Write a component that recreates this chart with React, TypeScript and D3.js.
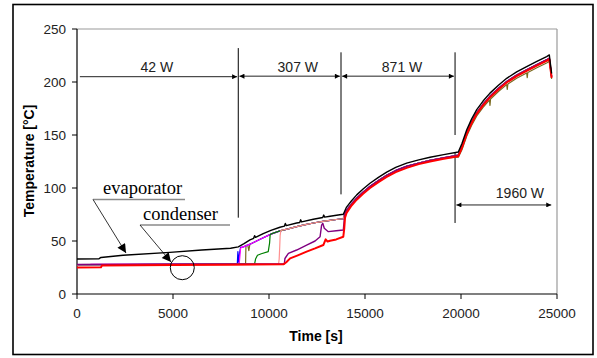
import React, { useEffect, useRef } from 'react';
import * as d3 from 'd3';

type Pt = [number, number];

// evaporator thermocouple (black)
const evaporator: Pt[] = [
  [0, 33], [1150, 33.3], [1250, 34.5], [2400, 36.6], [4840, 39.3], [6500, 41.5], [8000, 43.2],
  [8400, 44.5], [8700, 47.5], [9010, 51], [9200, 52.5], [9250, 55], [9300, 53.5], [9700, 57],
  [10100, 60], [10570, 63], [10800, 64], [10850, 66.5], [10900, 64.5], [11440, 67], [11600, 67.5],
  [11650, 70], [11700, 68], [12310, 70.5], [12800, 72.2], [12850, 74.5], [12900, 72.5], [13180, 73.4],
  [13600, 74.5], [13870, 75.2], [14040, 82], [14300, 88], [14570, 93.5], [14900, 99], [15260, 104.5],
  [15700, 110], [16130, 115], [16600, 119.5], [17170, 123.5], [17800, 126.5], [18390, 129],
  [19100, 131.5], [19860, 134], [20050, 142], [20300, 155], [20550, 165], [20820, 174], [21150, 182],
  [21510, 189.5], [21950, 197], [22380, 203.5], [22900, 209.5], [23420, 214.5], [23950, 219.5],
  [24460, 224], [24600, 225.5], [24650, 218], [24720, 208],
];

// shared path of the condenser thermocouples once they have heated up
const clusterMid: Pt[] = [
  [8600, 44], [9010, 47], [9300, 49.5], [9700, 53], [10100, 56.5], [10570, 59.5], [11000, 61.5],
  [11440, 63.5], [11900, 65.5], [12310, 67], [12800, 68.5], [13180, 69.5], [13600, 70.5], [13870, 71],
];
const clusterHigh: Pt[] = [
  [13950, 76], [14040, 79], [14300, 85], [14570, 90.5], [14900, 96], [15260, 101.5], [15700, 107],
  [16130, 112], [16600, 116.5], [17170, 120.5], [17800, 123.5], [18390, 126], [19100, 128.5],
  [19860, 131], [20050, 139], [20300, 152], [20550, 162], [20820, 171], [21150, 179], [21510, 186.5],
  [21950, 194], [22380, 200.5], [22900, 206.5], [23420, 211.5], [23950, 216.5], [24460, 221],
  [24600, 222.5], [24650, 215], [24720, 205],
];

const blueLow: Pt[] = [[0, 27.5], [3000, 27.8], [6000, 28.2], [8350, 28.5], [8380, 40], [8420, 30], [8470, 39], [8520, 44]];
const magentaLow: Pt[] = [[700, 28], [4000, 28.2], [8450, 28.6], [8520, 43], [8580, 44.5]];
const oliveLow: Pt[] = [[0, 27.8], [5000, 28.2], [8780, 28.5], [8800, 46], [8900, 45.5], [8950, 41], [9000, 46.5]];
const oliveHigh: Pt[] = [
  [19860, 129], [20050, 136], [20300, 149], [20550, 159], [20820, 168], [21150, 176], [21480, 183],
  [21510, 178], [21540, 184], [21950, 191], [22380, 197.5], [22410, 193], [22440, 198], [22900, 203.5],
  [23420, 208.5], [23450, 204], [23480, 209], [23950, 213.5], [24460, 218], [24600, 219.5],
  [24650, 213], [24720, 203],
];
const greenLow: Pt[] = [[0, 27.5], [5000, 28], [9250, 28.5], [9300, 33], [9400, 36.5], [9600, 38], [9960, 40], [10030, 48], [10060, 56], [10150, 57]];
const pinkLow: Pt[] = [[0, 27.5], [5000, 28], [10500, 28.3], [10530, 33], [10560, 45], [10580, 55], [10620, 60]];
const purpleLow: Pt[] = [
  [0, 27.8], [5000, 28.2], [10800, 28.5], [10830, 33.5], [11010, 38.4], [11440, 41.5], [11960, 46.2],
  [12400, 50], [12660, 54], [12740, 65], [12800, 66.7], [12880, 62], [13090, 58.8], [13500, 59.7],
  [13870, 60.4], [13920, 70],
];
const redLow: Pt[] = [
  [0, 25], [1250, 25.2], [1300, 26.8], [5000, 27.3], [8000, 27.6], [10750, 28], [10900, 30],
  [11100, 33.6], [11500, 36.5], [11960, 40], [12400, 43], [12830, 46.2], [12950, 51.6], [13050, 49.5],
  [13180, 50.3], [13500, 51.5], [13870, 54], [13920, 62],
];
const redHigh: Pt[] = [
  [13960, 72], [14040, 76.5], [14300, 83.5], [14570, 89], [14900, 94.5], [15260, 100], [15700, 105.5],
  [16130, 110.5], [16600, 115], [17170, 119], [17800, 122.5], [18390, 125], [19100, 127.5],
  [19860, 130], [20050, 138], [20300, 151], [20550, 161], [20820, 170], [21150, 178], [21510, 185.5],
  [21950, 193], [22380, 199.5], [22900, 205.5], [23420, 210.5], [23950, 215.5], [24460, 220],
  [24600, 221.5], [24650, 214], [24720, 204],
];

const xTicks = [0, 5000, 10000, 15000, 20000, 25000];
const yTicks = [0, 50, 100, 150, 200, 250];
const powerLabels = ['42 W', '307 W', '871 W', '1960 W'];

const after = (pts: Pt[], t: number) => pts.filter((p) => p[0] > t);
const before = (pts: Pt[], t: number) => pts.filter((p) => p[0] < t);

const App = () => {
  const svgRef = useRef<SVGSVGElement>(null);

  useEffect(() => {
    const width = 597;
    const height = 358;
    const svg = d3.select(svgRef.current).attr('width', width).attr('height', height);
    svg.selectAll('*').remove();

    const x = d3.scaleLinear().domain([0, 25000]).range([77, 557]);
    const y = d3.scaleLinear().domain([0, 250]).range([294, 29]);
    const sans = 'Arial, "Liberation Sans", sans-serif';
    const serif = '"Times New Roman", "Liberation Serif", serif';

    // arrow markers
    const defs = svg.append('defs');
    const addMarker = (id: string, w: number, h: number) =>
      defs.append('marker')
        .attr('id', id)
        .attr('viewBox', '0 0 10 10')
        .attr('refX', 10)
        .attr('refY', 5)
        .attr('markerUnits', 'userSpaceOnUse')
        .attr('markerWidth', w)
        .attr('markerHeight', h)
        .attr('orient', 'auto-start-reverse')
        .append('path')
        .attr('d', 'M0,0L10,5L0,10z')
        .attr('fill', '#000');
    addMarker('arrSmall', 6, 5);
    addMarker('arrBig', 13, 9);

    // outer frame
    svg.append('rect')
      .attr('x', 13).attr('y', 4.5).attr('width', 580).attr('height', 350)
      .attr('fill', 'none').attr('stroke', '#000').attr('stroke-width', 1.6);

    // plot box: gray top/right, black axes
    svg.append('line').attr('x1', x(0)).attr('x2', x(25000)).attr('y1', y(250)).attr('y2', y(250))
      .attr('stroke', '#9a9a9a').attr('stroke-width', 1.2);
    svg.append('line').attr('x1', x(25000)).attr('x2', x(25000)).attr('y1', y(250)).attr('y2', y(0))
      .attr('stroke', '#9a9a9a').attr('stroke-width', 1.2);
    svg.append('line').attr('x1', x(0)).attr('x2', x(0)).attr('y1', y(250)).attr('y2', y(0))
      .attr('stroke', '#000').attr('stroke-width', 1.2);
    svg.append('line').attr('x1', x(0)).attr('x2', x(25000)).attr('y1', y(0)).attr('y2', y(0))
      .attr('stroke', '#000').attr('stroke-width', 1.2);

    // ticks
    yTicks.forEach((v) => {
      svg.append('line').attr('x1', x(0) - 5).attr('x2', x(0)).attr('y1', y(v)).attr('y2', y(v))
        .attr('stroke', '#000');
      svg.append('text').attr('x', 66).attr('y', y(v)).attr('dy', '0.35em')
        .attr('text-anchor', 'end').attr('font-family', sans).attr('font-size', 13.5)
        .attr('fill', '#222').text(v);
    });
    xTicks.forEach((v) => {
      svg.append('line').attr('x1', x(v)).attr('x2', x(v)).attr('y1', y(0)).attr('y2', y(0) + 5)
        .attr('stroke', '#000');
      svg.append('text').attr('x', x(v)).attr('y', 318)
        .attr('text-anchor', 'middle').attr('font-family', sans).attr('font-size', 13.5)
        .attr('fill', '#222').text(v);
    });

    // axis titles
    svg.append('text').attr('x', 316).attr('y', 341).attr('text-anchor', 'middle')
      .attr('font-family', sans).attr('font-weight', 'bold').attr('font-size', 14).text('Time [s]');
    svg.append('text').attr('transform', 'translate(34,161) rotate(-90)').attr('text-anchor', 'middle')
      .attr('font-family', sans).attr('font-weight', 'bold').attr('font-size', 14).text('Temperature [°C]');

    // phase dividers
    const divider = (t: number, a: number, b: number) =>
      svg.append('line').attr('x1', x(t)).attr('x2', x(t)).attr('y1', y(a)).attr('y2', y(b))
        .attr('stroke', '#000').attr('stroke-width', 1);
    divider(8400, 72, 232);
    divider(13750, 94, 228);
    divider(19690, 150, 228);
    divider(19690, 67, 133);

    // power arrows
    const span = (t1: number, t2: number, v: number, both: boolean) => {
      const l = svg.append('line').attr('x1', x(t1)).attr('x2', x(t2)).attr('y1', y(v)).attr('y2', y(v))
        .attr('stroke', '#222').attr('stroke-width', 1).attr('marker-end', 'url(#arrSmall)');
      if (both) l.attr('marker-start', 'url(#arrSmall)');
    };
    span(150, 8340, 205, false);
    span(8460, 13690, 205.5, true);
    span(13810, 19630, 205.5, true);
    span(19760, 24700, 84, true);

    const powerPos: Pt[] = [[4160, 209.4], [11500, 209.4], [16930, 209.4], [23070, 90.6]];
    powerLabels.forEach((s, i) => {
      svg.append('text').attr('x', x(powerPos[i][0])).attr('y', y(powerPos[i][1]))
        .attr('text-anchor', 'middle').attr('font-family', sans).attr('font-size', 14)
        .attr('fill', '#222').text(s);
    });

    // series
    const line = d3.line<Pt>().x((d) => x(d[0])).y((d) => y(d[1]));
    const series: { pts: Pt[]; color: string; w: number }[] = [
      { pts: [...oliveLow, ...after(clusterMid, 9000), ...before(clusterHigh, 19860), ...oliveHigh], color: '#7a6a1e', w: 1.2 },
      { pts: [...blueLow, ...after(clusterMid, 8520), ...clusterHigh], color: '#0000ff', w: 1.2 },
      { pts: [...magentaLow, ...after(clusterMid, 8580), ...clusterHigh], color: '#ff00ff', w: 1.2 },
      { pts: [...greenLow, ...after(clusterMid, 10150), ...clusterHigh], color: '#008000', w: 1.2 },
      { pts: [...pinkLow, ...after(clusterMid, 10620), ...clusterHigh], color: '#ff9090', w: 1.2 },
      { pts: [...purpleLow, ...clusterHigh], color: '#800080', w: 1.4 },
      { pts: [...redLow, ...redHigh], color: '#ff0000', w: 2 },
      { pts: evaporator, color: '#000', w: 1.4 },
    ];
    series.forEach((s) => {
      svg.append('path').attr('d', line(s.pts)).attr('fill', 'none')
        .attr('stroke', s.color).attr('stroke-width', s.w).attr('stroke-linejoin', 'round');
    });

    // evaporator / condenser callouts
    svg.append('text').attr('x', x(1354)).attr('y', y(94.3)).attr('font-family', serif)
      .attr('font-size', 18.5).text('evaporator');
    svg.append('line').attr('x1', x(833)).attr('x2', x(5625)).attr('y1', y(89.2)).attr('y2', y(89.2))
      .attr('stroke', '#8a8a8a').attr('stroke-width', 1.5);
    svg.append('line').attr('x1', x(833)).attr('y1', y(89.2)).attr('x2', x(2552)).attr('y2', y(38.7))
      .attr('stroke', '#000').attr('stroke-width', 0.8).attr('marker-end', 'url(#arrBig)');

    svg.append('text').attr('x', x(3438)).attr('y', y(69.8)).attr('font-family', serif)
      .attr('font-size', 18.5).text('condenser');
    svg.append('line').attr('x1', x(3281)).attr('x2', x(7969)).attr('y1', y(65.1)).attr('y2', y(65.1))
      .attr('stroke', '#8a8a8a').attr('stroke-width', 1.5);
    svg.append('line').attr('x1', x(3281)).attr('y1', y(65.1)).attr('x2', x(4896)).attr('y2', y(30.2))
      .attr('stroke', '#000').attr('stroke-width', 0.8).attr('marker-end', 'url(#arrBig)');

    svg.append('circle').attr('cx', x(5484)).attr('cy', y(24.8)).attr('r', 12)
      .attr('fill', 'none').attr('stroke', '#000').attr('stroke-width', 1);
  }, []);

  return (
    <svg ref={svgRef} style={{ position: 'absolute', left: 0, top: 0, background: '#fff' }} />
  );
};

export default App;
